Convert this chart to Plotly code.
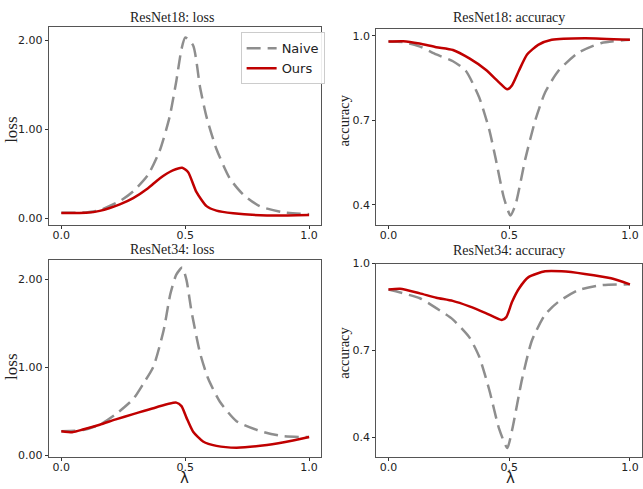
import plotly.graph_objects as go

# ResNet18 loss
r18_loss_naive_x = [0.0, 0.1, 0.155, 0.236, 0.29, 0.35, 0.397, 0.437, 0.464, 0.485, 0.5, 0.532, 0.56, 0.586, 0.626, 0.68, 0.734, 0.8, 0.895, 1.0]
r18_loss_naive_y = [0.065, 0.07, 0.095, 0.196, 0.305, 0.49, 0.76, 1.14, 1.54, 1.9, 2.03, 1.94, 1.47, 1.14, 0.78, 0.45, 0.27, 0.14, 0.07, 0.05]
r18_loss_ours_x = [0.0, 0.1, 0.155, 0.236, 0.29, 0.35, 0.397, 0.45, 0.488, 0.512, 0.545, 0.586, 0.626, 0.694, 0.83, 1.0]
r18_loss_ours_y = [0.062, 0.065, 0.087, 0.16, 0.23, 0.34, 0.45, 0.54, 0.57, 0.52, 0.30, 0.14, 0.09, 0.06, 0.035, 0.04]

# ResNet18 accuracy
r18_acc_naive_x = [0.0, 0.06, 0.128, 0.198, 0.267, 0.32, 0.375, 0.417, 0.444, 0.478, 0.505, 0.526, 0.567, 0.608, 0.649, 0.704, 0.786, 0.882, 1.0]
r18_acc_naive_y = [0.98, 0.978, 0.963, 0.934, 0.91, 0.876, 0.783, 0.668, 0.564, 0.425, 0.362, 0.40, 0.564, 0.70, 0.80, 0.876, 0.94, 0.975, 0.986]
r18_acc_ours_x = [0.0, 0.061, 0.128, 0.198, 0.267, 0.335, 0.403, 0.458, 0.492, 0.512, 0.54, 0.574, 0.62, 0.676, 0.813, 1.0]
r18_acc_ours_y = [0.98, 0.981, 0.973, 0.96, 0.95, 0.92, 0.88, 0.835, 0.81, 0.825, 0.876, 0.934, 0.968, 0.986, 0.992, 0.986]

# ResNet34 loss
r34_loss_naive_x = [0.0, 0.087, 0.155, 0.22, 0.29, 0.33, 0.372, 0.413, 0.44, 0.464, 0.488, 0.505, 0.525, 0.56, 0.593, 0.64, 0.707, 0.8, 0.895, 1.0]
r34_loss_naive_y = [0.277, 0.29, 0.35, 0.47, 0.64, 0.81, 1.01, 1.42, 1.83, 2.05, 2.13, 1.99, 1.64, 1.16, 0.87, 0.61, 0.39, 0.28, 0.22, 0.21]
r34_loss_ours_x = [0.0, 0.047, 0.087, 0.155, 0.22, 0.29, 0.357, 0.464, 0.485, 0.505, 0.532, 0.572, 0.626, 0.707, 0.83, 0.935, 1.0]
r34_loss_ours_y = [0.277, 0.266, 0.295, 0.35, 0.41, 0.47, 0.525, 0.6, 0.56, 0.43, 0.27, 0.16, 0.11, 0.09, 0.12, 0.17, 0.21]

# ResNet34 accuracy
r34_acc_naive_x = [0.0, 0.13, 0.198, 0.266, 0.335, 0.376, 0.417, 0.458, 0.492, 0.512, 0.553, 0.594, 0.649, 0.704, 0.786, 0.881, 1.0]
r34_acc_naive_y = [0.91, 0.88, 0.846, 0.807, 0.745, 0.678, 0.565, 0.43, 0.363, 0.425, 0.60, 0.734, 0.824, 0.868, 0.908, 0.925, 0.928]
r34_acc_ours_x = [0.0, 0.048, 0.13, 0.198, 0.266, 0.335, 0.403, 0.469, 0.488, 0.512, 0.54, 0.58, 0.649, 0.717, 0.813, 0.922, 1.0]
r34_acc_ours_y = [0.91, 0.913, 0.897, 0.882, 0.871, 0.852, 0.829, 0.805, 0.815, 0.868, 0.913, 0.953, 0.973, 0.973, 0.964, 0.949, 0.928]

titles = ["ResNet18: loss", "ResNet18: accuracy", "ResNet34: loss", "ResNet34: accuracy"]
x_ticks = [0.0, 0.5, 1.0]
x_tick_text = ["0.0", "0.5", "1.0"]
loss_ticks = [0.0, 1.0, 2.0]
loss_tick_text = ["0.00", "1.00", "2.00"]
acc_ticks = [0.4, 0.7, 1.0]
acc_tick_text = ["0.4", "0.7", "1.0"]

GRAY = "#8e8e8e"
RED = "#c00000"
W, H = 643, 489

fig = go.Figure()

panels = [
    (r18_loss_naive_x, r18_loss_naive_y, r18_loss_ours_x, r18_loss_ours_y, "x", "y"),
    (r18_acc_naive_x, r18_acc_naive_y, r18_acc_ours_x, r18_acc_ours_y, "x2", "y2"),
    (r34_loss_naive_x, r34_loss_naive_y, r34_loss_ours_x, r34_loss_ours_y, "x3", "y3"),
    (r34_acc_naive_x, r34_acc_naive_y, r34_acc_ours_x, r34_acc_ours_y, "x4", "y4"),
]
for i, (nx, ny, ox, oy, xa, ya) in enumerate(panels):
    fig.add_trace(go.Scatter(x=nx, y=ny, mode="lines", name="Naive", xaxis=xa, yaxis=ya,
                             line=dict(color=GRAY, width=2.5, dash="14px,7px", shape="spline", smoothing=0.6),
                             showlegend=(i == 0)))
    fig.add_trace(go.Scatter(x=ox, y=oy, mode="lines", name="Ours", xaxis=xa, yaxis=ya,
                             line=dict(color=RED, width=2.5, shape="spline", smoothing=0.6),
                             showlegend=(i == 0)))

def px_dom_x(a, b):
    return [a / W, b / W]

def px_dom_y(top, bottom):
    return [(H - bottom) / H, (H - top) / H]

axis_common = dict(showline=True, linecolor="#555555", linewidth=1.2, mirror=True,
                   ticks="outside", ticklen=3, tickwidth=1, tickcolor="#333333",
                   showgrid=False, zeroline=False, ticklabeloverflow="allow",
                   tickfont=dict(family="DejaVu Sans", size=11, color="#222222"))

doms = [
    (px_dom_x(49, 322), px_dom_y(22, 224), [-0.066, 2.142], loss_ticks, loss_tick_text),
    (px_dom_x(377, 643), px_dom_y(24, 224), [0.33, 1.023], acc_ticks, acc_tick_text),
    (px_dom_x(49, 322), px_dom_y(260, 462), [-0.012, 2.22], loss_ticks, loss_tick_text),
    (px_dom_x(377, 643), px_dom_y(264, 462), [0.333, 1.0], acc_ticks, acc_tick_text),
]
layout = {}
for i, (dx, dy, yr, yt, ytt) in enumerate(doms):
    s = "" if i == 0 else str(i + 1)
    layout["xaxis" + s] = dict(axis_common, domain=dx, range=[-0.05, 1.05],
                               tickvals=x_ticks, ticktext=x_tick_text, anchor="y" + s,
                               ticklabelstandoff=-3)
    layout["yaxis" + s] = dict(axis_common, domain=dy, range=yr,
                               tickvals=yt, ticktext=ytt, anchor="x" + s)
fig.update_layout(**layout)

serif = "Liberation Serif"
ann = []
title_pos = [(172, 12), (510, 12), (172, 250), (510, 251)]
for t, (cx, cy) in zip(titles, title_pos):
    ann.append(dict(text=t, x=cx / W, y=(H - cy) / H, xref="paper", yref="paper",
                    showarrow=False, font=dict(family=serif, size=14, color="#222222"),
                    xanchor="center", yanchor="middle"))
for (cx, cy, t, sz) in [(12, 127, "loss", 17), (12, 370, "loss", 17),
                        (345, 117, "accuracy", 14.5), (345, 355, "accuracy", 14.5)]:
    ann.append(dict(text=t, x=cx / W, y=(H - cy) / H, xref="paper", yref="paper",
                    showarrow=False, textangle=-90, font=dict(family=serif, size=sz, color="#222222"),
                    xanchor="center", yanchor="middle"))
for cx in [185, 511]:
    ann.append(dict(text="λ", x=cx / W, y=(H - 484) / H, xref="paper", yref="paper",
                    showarrow=False, font=dict(family="DejaVu Sans", size=15, color="#222222"),
                    xanchor="center", yanchor="middle"))

fig.update_layout(
    width=W, height=H, margin=dict(l=0, r=0, t=0, b=0),
    paper_bgcolor="white", plot_bgcolor="white",
    annotations=ann,
    legend=dict(x=241 / W, y=(H - 27) / H, xanchor="left", yanchor="top",
                bgcolor="rgba(255,255,255,0.9)", bordercolor="#cccccc", borderwidth=1,
                font=dict(family="DejaVu Sans", size=13, color="#222222"),
                itemwidth=30, tracegroupgap=0),
)

fig.write_html("out.html", config={"displayModeBar": False},
               post_script="document.body.style.margin='0';document.body.style.overflow='hidden';")
